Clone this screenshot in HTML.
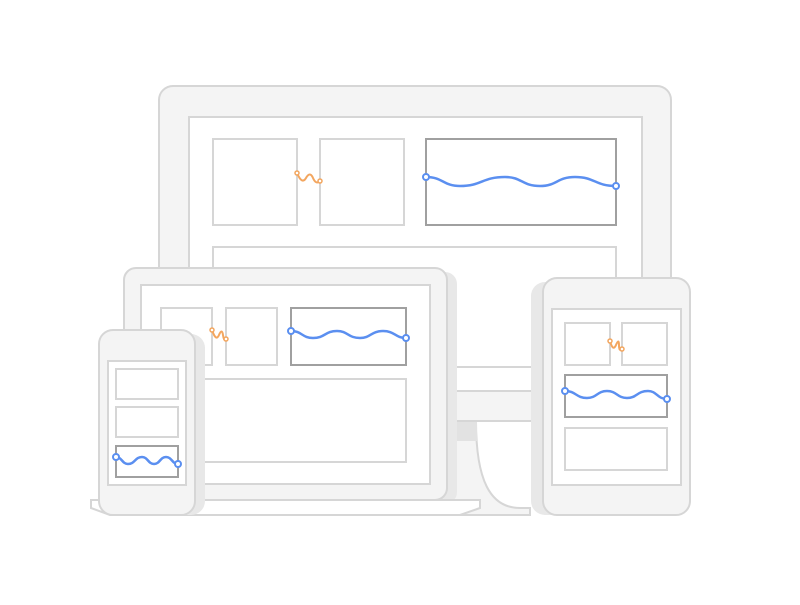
<!DOCTYPE html><html><head><style>body{margin:0;background:#fff}</style></head><body>
<svg width="800" height="600" viewBox="0 0 800 600" xmlns="http://www.w3.org/2000/svg">
<g fill="none" stroke-width="2">
<!-- monitor stand -->
<path d="M447 421 L476 421 C476 480 490 508 520 508 L530 508 L530 515 L447 515Z" fill="#f4f4f4" stroke="none"/>
<path d="M476 421 C476 480 490 508 520 508 L530 508 L530 515 L460 515" stroke="#d6d6d6"/>
<rect x="447" y="421" width="30" height="20" fill="#e2e2e2" stroke="none"/>
<!-- monitor -->
<rect x="159" y="86" width="512" height="335" rx="14" fill="#f4f4f4" stroke="#d6d6d6"/>
<rect x="189" y="117" width="453" height="274" fill="#fff" stroke="#d6d6d6"/>
<rect x="213" y="139" width="84" height="86" stroke="#d6d6d6"/>
<rect x="320" y="139" width="84" height="86" stroke="#d6d6d6"/>
<rect x="426" y="139" width="190" height="86" stroke="#a0a0a0"/>
<rect x="213" y="247" width="403" height="120" stroke="#d6d6d6"/>
<path d="M426 177 C443 177 443 186 460 186 C482 186 482 177 505 177 C522 177 522 186 540 186 C557 186 557 177 575 177 C595 177 595 186 616 186" stroke="#5b8ff0" stroke-width="2.5"/>
<circle cx="426" cy="177" r="3" fill="#fff" stroke="#5b8ff0"/><circle cx="616" cy="186" r="3" fill="#fff" stroke="#5b8ff0"/>
<path d="M297 173 Q302 185 306 178 T313 178 T320 181" stroke="#f3a65f" stroke-width="2"/>
<circle cx="297" cy="173" r="2" fill="#fff" stroke="#f3a65f" stroke-width="1.5"/><circle cx="320" cy="181" r="2" fill="#fff" stroke="#f3a65f" stroke-width="1.5"/>
<!-- laptop -->
<rect x="134" y="272" width="323" height="232" rx="12" fill="#e8e8e8" stroke="none"/>
<rect x="124" y="268" width="323" height="232" rx="12" fill="#f4f4f4" stroke="#d6d6d6"/>
<rect x="141" y="285" width="289" height="199" fill="#fff" stroke="#d6d6d6"/>
<rect x="161" y="308" width="51" height="57" stroke="#d6d6d6"/>
<rect x="226" y="308" width="51" height="57" stroke="#d6d6d6"/>
<rect x="291" y="308" width="115" height="57" stroke="#a0a0a0"/>
<rect x="161" y="379" width="245" height="83" stroke="#d6d6d6"/>
<path d="M291 331 C302 331 302 338 313 338 C325 338 325 331 337 331 C348 331 348 338 360 338 C371 338 371 331 383 331 C395 331 395 338 406 338" stroke="#5b8ff0" stroke-width="2.5"/>
<circle cx="291" cy="331" r="3" fill="#fff" stroke="#5b8ff0"/><circle cx="406" cy="338" r="3" fill="#fff" stroke="#5b8ff0"/>
<path d="M212 330 Q216 342 219 335 T223 335 T226 339" stroke="#f3a65f" stroke-width="2"/>
<circle cx="212" cy="330" r="2" fill="#fff" stroke="#f3a65f" stroke-width="1.5"/><circle cx="226" cy="339" r="2" fill="#fff" stroke="#f3a65f" stroke-width="1.5"/>
<path d="M91 500 L480 500 L480 508 L460 515 L110 515 L91 508Z" fill="#fff" stroke="#d6d6d6"/>
<!-- tablet -->
<rect x="531" y="282" width="147" height="233" rx="14" fill="#e8e8e8" stroke="none"/>
<rect x="543" y="278" width="147" height="237" rx="14" fill="#f4f4f4" stroke="#d6d6d6"/>
<rect x="552" y="309" width="129" height="176" fill="#fff" stroke="#d6d6d6"/>
<rect x="565" y="323" width="45" height="42" stroke="#d6d6d6"/>
<rect x="622" y="323" width="45" height="42" stroke="#d6d6d6"/>
<rect x="565" y="375" width="102" height="42" stroke="#a0a0a0"/>
<rect x="565" y="428" width="102" height="42" stroke="#d6d6d6"/>
<path d="M565 391 C576 391 576 398 587 398 C597 398 597 391 607 391 C617 391 617 398 627 398 C637 398 637 391 648 391 C657 391 657 399 667 399" stroke="#5b8ff0" stroke-width="2.5"/>
<circle cx="565" cy="391" r="3" fill="#fff" stroke="#5b8ff0"/><circle cx="667" cy="399" r="3" fill="#fff" stroke="#5b8ff0"/>
<path d="M610 341 Q613 352 616 345 T619 345 T622 349" stroke="#f3a65f" stroke-width="2"/>
<circle cx="610" cy="341" r="2" fill="#fff" stroke="#f3a65f" stroke-width="1.5"/><circle cx="622" cy="349" r="2" fill="#fff" stroke="#f3a65f" stroke-width="1.5"/>
<!-- phone -->
<rect x="109" y="334" width="96" height="181" rx="14" fill="#e8e8e8" stroke="none"/>
<rect x="99" y="330" width="96" height="185" rx="14" fill="#f4f4f4" stroke="#d6d6d6"/>
<rect x="108" y="361" width="78" height="124" fill="#fff" stroke="#d6d6d6"/>
<rect x="116" y="369" width="62" height="30" stroke="#d6d6d6"/>
<rect x="116" y="407" width="62" height="30" stroke="#d6d6d6"/>
<rect x="116" y="446" width="62" height="31" stroke="#a0a0a0"/>
<path d="M116 457 C122 457 122 464 128 464 C135 464 135 457 142 457 C148 457 148 464 154 464 C160 464 160 457 166 457 C172 457 172 464 178 464" stroke="#5b8ff0" stroke-width="2.5"/>
<circle cx="116" cy="457" r="3" fill="#fff" stroke="#5b8ff0"/><circle cx="178" cy="464" r="3" fill="#fff" stroke="#5b8ff0"/>
</g>
</svg>
</body></html>
